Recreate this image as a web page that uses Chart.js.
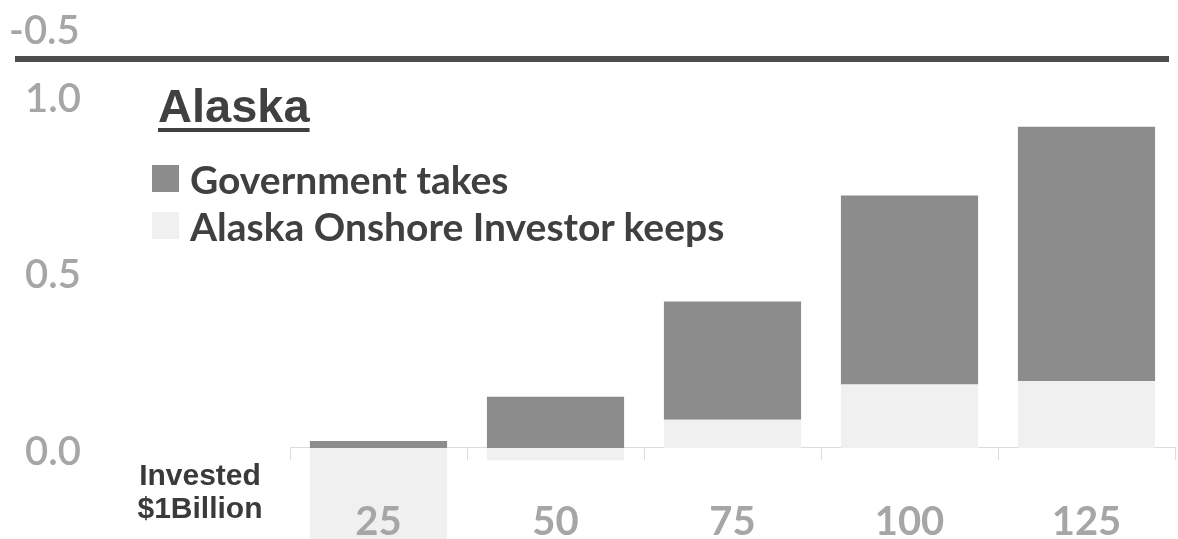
<!DOCTYPE html>
<html>
<head>
<meta charset="utf-8">
<script src="https://cdn.jsdelivr.net/npm/chart.js@4.4.1/dist/chart.umd.min.js"></script>
<style>
  html, body { margin: 0; padding: 0; background: #fff; overflow: hidden; }
  #wrap { position: relative; width: 1178px; height: 539px; }
  #chart { position: absolute; left: 0; top: 0; }
  /* tail of the panel above: its last tick and its bottom rule */
  #upperTick { position: absolute; left: 9px; top: 9px; font: 600 40px Lato, sans-serif; color: #a6a6a6; line-height: 40px; }
  #upperRule { position: absolute; left: 15px; top: 56px; width: 1154px; height: 6px; background: #4d4d4d; }
  #title { position: absolute; left: 158px; top: 78px; font: bold 47px "Liberation Sans", Arial, sans-serif; color: #404040;
           text-decoration: underline; text-decoration-thickness: 4px; text-underline-offset: 6px; }
  #legend { position: absolute; left: 152px; top: 155px; font: bold 39px Lato, sans-serif; color: #404040; }
  #legend .row { display: flex; align-items: center; height: 47px; }
  #legend .swatch { width: 27px; height: 27px; margin-right: 11px; }
  #invested { position: absolute; left: 120px; top: 458px; width: 160px; text-align: center;
              font: bold 30px "Liberation Sans", Arial, sans-serif; color: #3a3a3a; line-height: 33px; }
</style>
</head>
<body>
<div id="wrap">
  <canvas id="chart" width="1178" height="539"></canvas>
  <div id="upperTick">-0.5</div>
  <div id="upperRule"></div>
  <div id="title">Alaska</div>
  <div id="legend"></div>
  <div id="invested">Invested<br>$1Billion</div>
</div>
<script>
  const categories = ['25', '50', '75', '100', '125'];
  const governmentTakes = [0.02, 0.145, 0.335, 0.535, 0.72];
  const investorKeeps = [-0.3, -0.035, 0.08, 0.18, 0.19];
  const yTickValues = [0, 0.5, 1.0];

  const govColor = '#8c8c8c';
  const keepColor = '#f0f0f0';

  const ctx = document.getElementById('chart');

  const chart = new Chart(ctx, {
    type: 'bar',
    data: {
      labels: categories,
      datasets: [
        {
          label: 'Alaska Onshore Investor keeps',
          data: investorKeeps,
          backgroundColor: keepColor,
          borderWidth: 0
        },
        {
          label: 'Government takes',
          data: governmentTakes,
          backgroundColor: govColor,
          borderWidth: 0
        }
      ]
    },
    options: {
      responsive: false,
      animation: false,
      devicePixelRatio: 1,
      categoryPercentage: 1,
      barPercentage: 0.775,
      layout: { padding: { top: 95, right: 3, bottom: 0, left: 25 } },
      plugins: {
        legend: { display: false },
        tooltip: { enabled: false }
      },
      scales: {
        x: {
          stacked: true,
          position: { y: 0 },
          // axis sits on the zero line, so it needs no room below the plot
          afterFit: function(scale) {
            scale.height = 0;
          },
          grid: { drawOnChartArea: false, drawTicks: true, tickLength: 12, color: '#dcdcdc', offset: true },
          border: { display: true, color: '#dcdcdc', width: 1 },
          ticks: {
            z: 1,
            padding: 38,
            color: '#a6a6a6',
            font: { family: 'Lato', weight: 'bold', size: 40 }
          }
        },
        y: {
          stacked: true,
          min: -0.258,
          max: 1.0,
          afterBuildTicks: function(scale) {
            scale.ticks = yTickValues.map(v => ({ value: v }));
          },
          // wide gutter between the tick labels and the plot;
          // no bottom padding so the plot runs down to the edge
          afterFit: function(scale) {
            scale.width = 265;
            scale.paddingBottom = 0;
          },
          grid: { display: false, drawTicks: false },
          border: { display: false },
          ticks: {
            crossAlign: 'far',
            padding: 0,
            labelOffset: 4,
            color: '#a6a6a6',
            font: { family: 'Lato', weight: '600', size: 40 },
            callback: v => Number(v).toFixed(1)
          }
        }
      }
    }
  });

  // legend: top of the stack first
  const legend = document.getElementById('legend');
  chart.data.datasets.slice().reverse().forEach(ds => {
    const row = document.createElement('div');
    row.className = 'row';
    const sw = document.createElement('span');
    sw.className = 'swatch';
    sw.style.background = ds.backgroundColor;
    const txt = document.createElement('span');
    txt.textContent = ds.label;
    row.appendChild(sw);
    row.appendChild(txt);
    legend.appendChild(row);
  });
</script>
</body>
</html>
